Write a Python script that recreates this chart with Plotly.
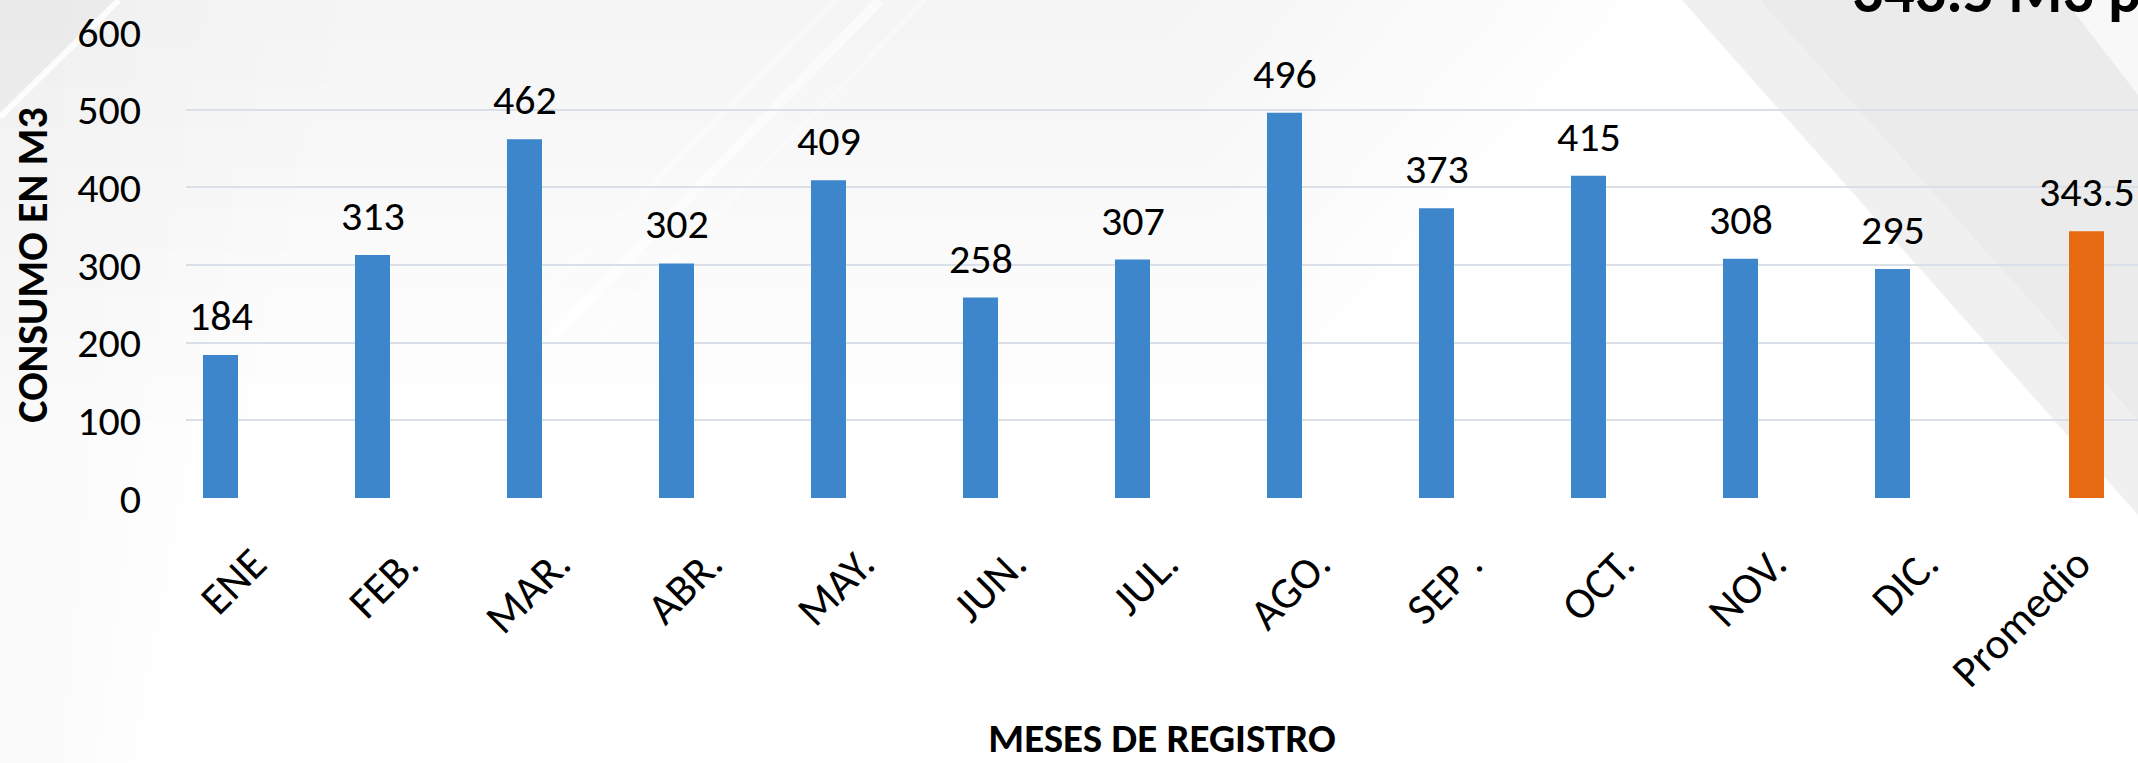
import plotly.graph_objects as go

# ---- data ----
categories = ["ENE", "FEB.", "MAR.", "ABR.", "MAY.", "JUN.", "JUL.", "AGO.",
              "SEP .", "OCT.", "NOV.", "DIC.", "Promedio"]
monthly = [184, 313, 462, 302, 409, 258, 307, 496, 373, 415, 308, 295, None]
average = [None] * 12 + [343.5]
y_ticks = [0, 100, 200, 300, 400, 500, 600]
title_text = "343.5 M3 promedio"
y_title = "CONSUMO EN M3"
x_title = "MESES DE REGISTRO"

# ---- geometry / style ----
W, H = 2138, 763
L, R, T, B = 186, 2138, 32, 498
FONT = "Calibri, Carlito, Lato, sans-serif"
BLUE = "#3d86cb"
ORANGE = "#e66a12"
GRID = "#dbe0e8"


def P(x, y):
    return (x - L) / (R - L), (B - y) / (B - T)


def poly(pts, fill):
    d = ""
    for i, (x, y) in enumerate(pts):
        px, py = P(x, y)
        d += ("M" if i == 0 else "L") + f"{px:.5f},{py:.5f} "
    d += "Z"
    return dict(type="path", path=d, xref="paper", yref="paper", layer="below",
                fillcolor=fill, line=dict(width=0, color="rgba(0,0,0,0)"))


def seg(x0, y0, x1, y1, color, width):
    a, b = P(x0, y0)
    c, d = P(x1, y1)
    return dict(type="line", x0=a, y0=b, x1=c, y1=d, xref="paper", yref="paper",
                layer="below", line=dict(color=color, width=width))


G = "rgba(128,128,128,{a})"
shapes = []
# soft top wash (faint neutral layers -> gentle vertical gradient)
N = 10
for k in range(1, N + 1):
    h = 420 * k / N
    xt = 1150 + 520 * k / N
    shapes.append(poly([(0, 0), (xt, 0), (xt - 0.9 * h, h), (0, h)], G.format(a=0.013)))
# darker left edge
M = 5
for k in range(1, M + 1):
    s = k / M
    shapes.append(poly([(0, 0), (340 * s, 0), (160 * s, 763), (0, 763)], G.format(a=0.012)))
shapes += [
    poly([(0, 0), (119, 0), (0, 117)], G.format(a=0.05)),
    seg(880, 0, 520, 370, "rgba(255,255,255,0.55)", 10),
    seg(835, 0, 480, 360, "rgba(255,255,255,0.30)", 6),
    seg(925, 0, 575, 360, "rgba(255,255,255,0.30)", 5),
    poly([(1682, 0), (2065, 0), (2138, 95), (2138, 515)], G.format(a=0.12)),
    poly([(1760, 0), (2065, 0), (2138, 95), (2138, 420)], G.format(a=0.04)),
    poly([(2065, 0), (2138, 0), (2138, 95)], G.format(a=0.06)),
    seg(119, 0, 0, 117, "rgba(255,255,255,0.85)", 6),
]

fig = go.Figure()
fig.add_trace(go.Bar(x=categories, y=monthly, marker=dict(color=BLUE, line=dict(width=0)),
                     name="Consumo", showlegend=False))
fig.add_trace(go.Bar(x=categories, y=average, marker=dict(color=ORANGE, line=dict(width=0)),
                     name="Promedio", showlegend=False))

annotations = []
for c, v in zip(categories, monthly):
    if v is not None:
        annotations.append(dict(x=c, y=v, text=f"{v:g}", showarrow=False, xshift=-21,
                                yshift=12, yanchor="bottom",
                                font=dict(family=FONT, size=42, color="black")))
for c, v in zip(categories, average):
    if v is not None:
        annotations.append(dict(x=c, y=v, text=f"{v:g}", showarrow=False, xshift=21,
                                yshift=12, yanchor="bottom",
                                font=dict(family=FONT, size=42, color="black")))
annotations.append(dict(xref="paper", yref="paper", x=P(1850, 0)[0], y=P(0, -9)[1],
                        xanchor="left", yanchor="middle", text=title_text, showarrow=False,
                        font=dict(family=FONT, size=62, color="black", weight="bold")))

fig.update_layout(
    width=W, height=H,
    margin=dict(l=L, r=W - R, t=T, b=H - B, pad=0),
    paper_bgcolor="white", plot_bgcolor="rgba(0,0,0,0)",
    barmode="group", bargap=0.447, bargroupgap=0.167,
    shapes=shapes, annotations=annotations,
    font=dict(family=FONT, color="black"),
    xaxis=dict(type="category", range=[(L - 241.5) / 152, (R - 241.5) / 152],
               tickangle=-45, tickfont=dict(family=FONT, size=44, color="black"),
               showgrid=False, showline=False, zeroline=False, ticks="",
               ticklabelstandoff=30, ticklabelshift=12, automargin=False,
               title=dict(text=x_title, standoff=52,
                          font=dict(family=FONT, size=41, color="black", weight="bold"))),
    yaxis=dict(range=[0, 600], tickvals=y_ticks, showgrid=True, gridcolor=GRID, gridwidth=2,
               zeroline=False, showline=False, ticks="",
               tickfont=dict(family=FONT, size=42, color="black"),
               ticklabelstandoff=44, automargin=False,
               title=dict(text=y_title, standoff=16,
                          font=dict(family=FONT, size=42, color="black", weight="bold"))),
)

fig.write_html("out.html", config={"displayModeBar": False},
               post_script="document.body.style.margin='0';document.body.style.overflow='hidden';")
